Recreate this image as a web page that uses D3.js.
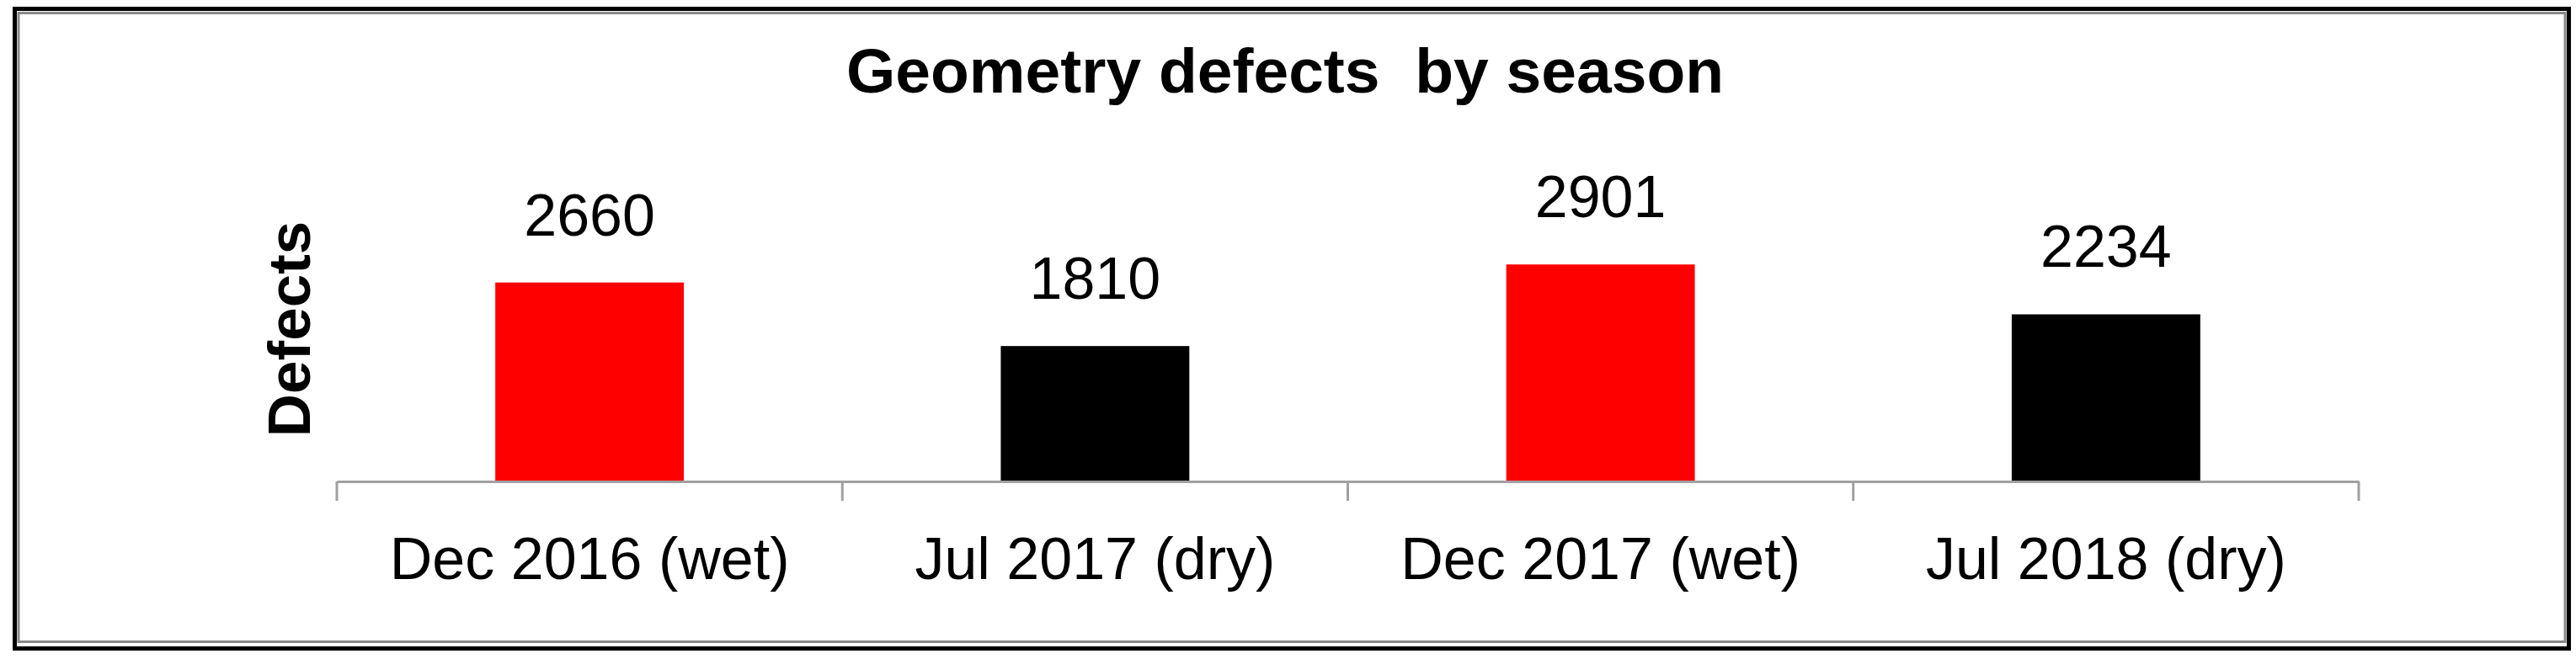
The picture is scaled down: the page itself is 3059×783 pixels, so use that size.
<!DOCTYPE html>
<html>
<head>
<meta charset="utf-8">
<script src="https://cdn.jsdelivr.net/npm/d3@7"></script>
<style>
  html, body { margin: 0; padding: 0; background: #fff; }
  svg text { font-family: "Liberation Sans", Arial, sans-serif; }
</style>
</head>
<body>
<svg id="chart" width="3059" height="783"></svg>
<script>
// datos del grafico
var categories = ["Dec 2016 (wet)", "Jul 2017 (dry)", "Dec 2017 (wet)", "Jul 2018 (dry)"];
var defects = [2660, 1810, 2901, 2234];
var barColors = ["#ff0000", "#000000", "#ff0000", "#000000"];

var svg = d3.select("#chart");

// marco exterior negro y linea gris interior
svg.append("rect")
  .attr("x", 17.5).attr("y", 10.5)
  .attr("width", 3033).attr("height", 760)
  .attr("fill", "#fff")
  .attr("stroke", "#000")
  .attr("stroke-width", 5);
svg.append("rect")
  .attr("x", 22).attr("y", 15.5)
  .attr("width", 3024).attr("height", 747)
  .attr("fill", "none")
  .attr("stroke", "#8a8a8a")
  .attr("stroke-width", 3);

// escalas
var x = d3.scaleBand()
  .domain(categories)
  .range([400, 2801])
  .paddingInner(0.627)
  .paddingOuter(0.3135);

var y = d3.scaleLinear()
  .domain([0, 3500])
  .range([572, 261]);

// titulo
svg.append("text")
  .attr("x", 1526)
  .attr("y", 110)
  .attr("text-anchor", "middle")
  .style("white-space", "pre")
  .attr("font-size", 75)
  .attr("font-weight", "bold")
  .text("Geometry defects  by season");

// titulo eje Y
svg.append("text")
  .attr("transform", "translate(368,391) rotate(-90)")
  .attr("text-anchor", "middle")
  .attr("font-size", 71)
  .attr("font-weight", "bold")
  .text("Defects");

// barras
svg.selectAll("rect.bar")
  .data(categories)
  .enter().append("rect")
  .attr("class", "bar")
  .attr("x", function(d) { return x(d); })
  .attr("y", function(d, i) { return y(defects[i]); })
  .attr("width", x.bandwidth())
  .attr("height", function(d, i) { return y(0) - y(defects[i]); })
  .attr("fill", function(d, i) { return barColors[i]; });

// etiquetas de valor
svg.selectAll("text.value")
  .data(categories)
  .enter().append("text")
  .attr("class", "value")
  .attr("x", function(d) { return x(d) + x.bandwidth() / 2; })
  .attr("y", function(d, i) { return y(defects[i]) - 56; })
  .attr("text-anchor", "middle")
  .attr("font-size", 70)
  .attr("fill", "#000")
  .text(function(d, i) { return defects[i]; });

// eje X (solo linea y etiquetas)
var xAxis = svg.append("g")
  .attr("transform", "translate(0," + y(0) + ")")
  .call(d3.axisBottom(x).tickSize(0).tickPadding(116));
xAxis.select(".domain")
  .attr("stroke", "#a0a0a0")
  .attr("stroke-width", 3);
xAxis.selectAll(".tick text")
  .attr("font-size", 70)
  .attr("font-family", "Liberation Sans, Arial, sans-serif")
  .attr("fill", "#000")
  .attr("dy", 0);

// marcas entre categorias
var gap = (x.step() - x.bandwidth()) / 2;
var bounds = categories.map(function(d) { return x(d) - gap; });
bounds.push(x(categories[categories.length - 1]) + x.bandwidth() + gap);
svg.selectAll("line.tick-sep")
  .data(bounds)
  .enter().append("line")
  .attr("class", "tick-sep")
  .attr("x1", function(d) { return d; })
  .attr("x2", function(d) { return d; })
  .attr("y1", y(0))
  .attr("y2", y(0) + 23)
  .attr("stroke", "#a0a0a0")
  .attr("stroke-width", 3);
</script>
</body>
</html>
